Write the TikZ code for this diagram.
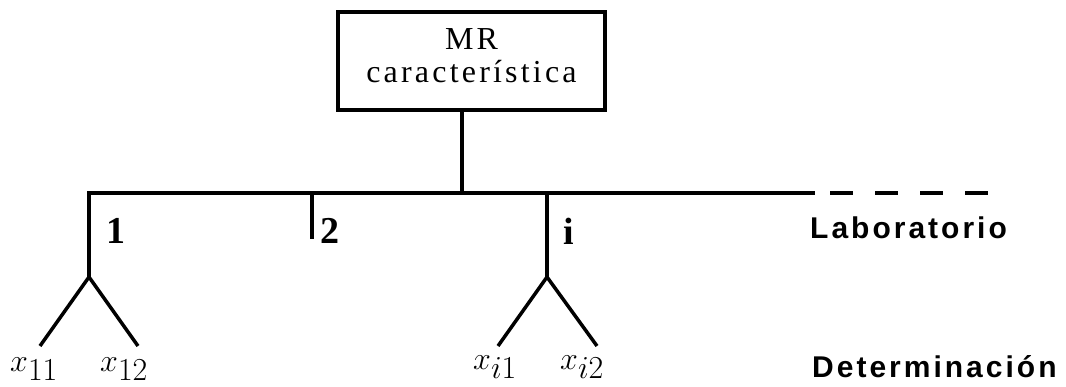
\documentclass[tikz,border=0pt]{standalone}
\usepackage{fix-cm}
\usepackage{fontspec}
\setmainfont{Liberation Serif}
\newfontfamily\boxfont[LetterSpace=10]{Liberation Serif}
\newfontfamily\levelfont[LetterSpace=10]{Liberation Sans}

\begin{document}
\begin{tikzpicture}[x=1pt,y=-1pt,
    tree/.style={line width=4pt},
    lab/.style={font=\fontsize{38}{38}\selectfont\bfseries,anchor=base west,inner sep=0pt},
    obs/.style={font=\fontsize{32}{32}\selectfont,anchor=base west,inner sep=0pt},
    level/.style={font=\fontsize{30}{30}\selectfont\levelfont\bfseries,anchor=base west,inner sep=0pt}]
    \useasboundingbox (0,0) rectangle (1066,386);

    \node[draw,line width=4pt,minimum width=267pt,minimum height=98pt,inner sep=0pt,
          align=center,font=\fontsize{32}{33}\selectfont\boxfont] (mr) at (471.5,61)
          {MR\\característica\rule[-10pt]{0pt}{0pt}};

    \coordinate (stem) at (462,193);
    \coordinate (lab1) at (89,277);
    \coordinate (lab2) at (312,239);
    \coordinate (labi) at (547,277);
    \coordinate (solid) at (815,193);
    \coordinate (dashA) at (830,193);
    \coordinate (dashB) at (988,193);

    \draw[tree] (mr.south -| stem) -- (stem);
    \draw[tree] (lab1) |- (solid);
    \draw[tree] (lab2 |- solid) -- (lab2);
    \draw[tree] (labi |- solid) -- (labi);
    \draw[tree,dash pattern=on 23pt off 22pt] (dashA) -- (dashB);

    \node[lab] (n1) at (106,243) {1};
    \node[lab] (n2) at (320,243) {2};
    \node[lab] (ni) at (563,244) {i};

    % determinaciones
    \coordinate (e11) at (40,346);
    \coordinate (e12) at (138,346);
    \coordinate (ei1) at (498,346);
    \coordinate (ei2) at (597,346);
    \draw[tree,line width=3.5pt] (e11) -- (lab1) -- (e12);
    \draw[tree,line width=3.5pt] (ei1) -- (labi) -- (ei2);

    \node[obs] (x11) at (10,371) {$x_{\textstyle 11}$};
    \node[obs] (x12) at (100,371) {$x_{\textstyle 12}$};
    \node[obs] (xi1) at (473,369) {$x_{\textstyle i1}$};
    \node[obs] (xi2) at (560,369) {$x_{\textstyle i2}$};

    \node[level] (lab) at (810,238) {Laboratorio};
    \node[level] (det) at (812,377) {Determinación};
\end{tikzpicture}
\end{document}
